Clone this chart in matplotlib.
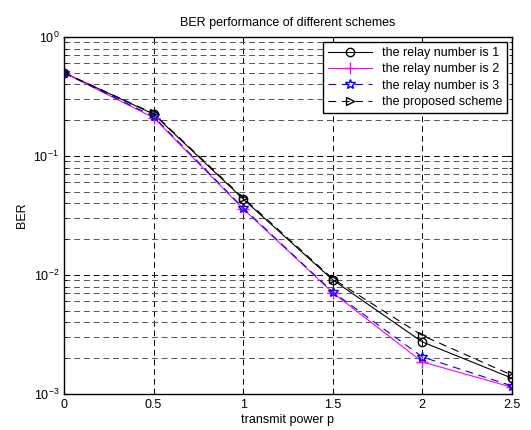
import matplotlib
matplotlib.use("Agg")
import matplotlib.pyplot as plt
from matplotlib.ticker import LogLocator, NullFormatter

plt.rcParams['font.family'] = ['Liberation Sans', 'DejaVu Sans']

p = [0, 0.5, 1, 1.5, 2, 2.5]
ber_relay1 = [0.50, 0.225, 0.0435, 0.0091, 0.00274, 0.00136]
ber_relay2 = [0.50, 0.210, 0.0360, 0.0071, 0.00186, 0.00114]
ber_relay3 = [0.50, 0.215, 0.0366, 0.0072, 0.00205, 0.00117]
ber_proposed = [0.50, 0.228, 0.0445, 0.0093, 0.00310, 0.00144]
labels = ['the relay number is 1', 'the relay number is 2',
          'the relay number is 3', 'the proposed scheme']

fig = plt.figure(figsize=(5.31, 4.30), dpi=100)
ax = fig.add_axes([0.1205, 0.0837, 0.8435, 0.8303])

ax.semilogy(p, ber_relay1, '-', color='black', marker='o', mfc='none', ms=6, lw=0.8, label=labels[0])
ax.semilogy(p, ber_relay2, '-', color='magenta', marker='+', ms=8, lw=0.8, label=labels[1])
ax.semilogy(p, ber_relay3, '--', color='blue', marker='*', mfc='none', ms=7, lw=0.8, dashes=(7, 5), label=labels[2])
ax.semilogy(p, ber_proposed, '--', color='black', marker='>', mfc='none', ms=6, lw=0.8, dashes=(7, 5), label=labels[3])

ax.set_xlim(0, 2.5)
ax.set_ylim(1e-3, 1)
ax.set_xticks([0, 0.5, 1, 1.5, 2, 2.5])
ax.set_xticklabels(['0', '0.5', '1', '1.5', '2', '2.5'])
ax.yaxis.set_major_locator(LogLocator(base=10, numticks=10))
ax.yaxis.set_minor_locator(LogLocator(base=10, subs=range(2, 10), numticks=20))
ax.yaxis.set_minor_formatter(NullFormatter())

ax.grid(True, which='major', linestyle=(0, (6, 4)), color='black', lw=0.7)
ax.grid(True, which='minor', axis='y', linestyle=(0, (6, 4)), color='#555555', lw=0.7)
ax.tick_params(which='both', direction='in', top=True, right=True, labelsize=9)
for s in ax.spines.values():
    s.set_linewidth(1.0)

ax.set_title('BER performance of different schemes', fontsize=9, pad=8)
ax.set_xlabel('transmit power p', fontsize=9, labelpad=2)
ax.set_ylabel('BER', fontsize=9)

leg = ax.legend(loc='upper right', numpoints=1, fontsize=9, fancybox=False,
                framealpha=1, edgecolor='black', borderaxespad=0.4,
                handlelength=3.5, labelspacing=0.35, borderpad=0.4)
leg.get_frame().set_linewidth(1.0)

fig.savefig('out.png', dpi=100)
